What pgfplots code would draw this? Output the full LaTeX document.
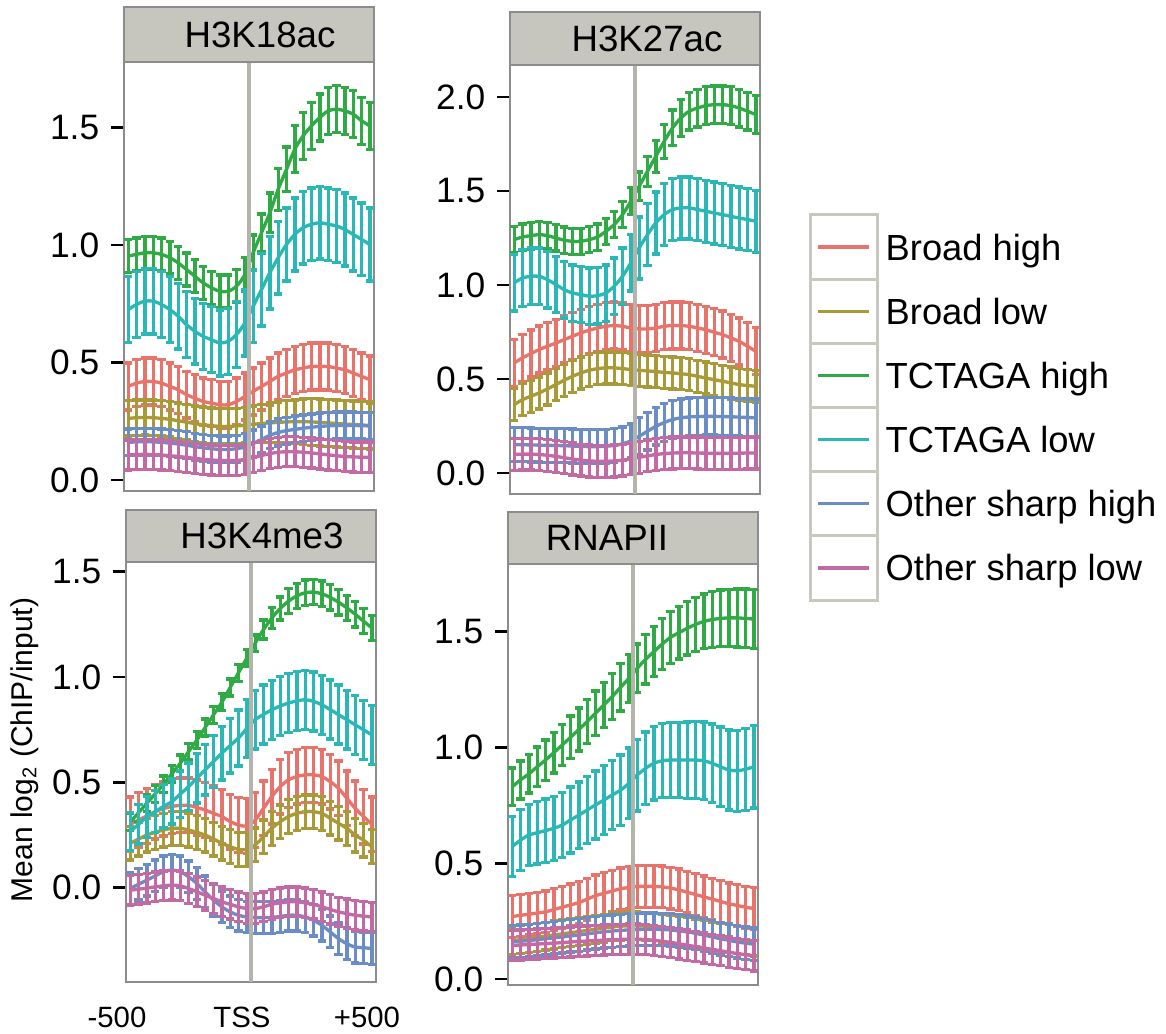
\documentclass[border=0pt]{standalone}
\usepackage{fontspec}
\setmainfont{Liberation Sans}
\usepackage{pgfplots}
\usepackage{pgfplotstable}
\pgfplotsset{compat=1.18}

\definecolor{cRed}{HTML}{E7736B}
\definecolor{cOlive}{HTML}{A99A38}
\definecolor{cGreen}{HTML}{2FAA44}
\definecolor{cCyan}{HTML}{2BB7B5}
\definecolor{cBlue}{HTML}{6A8DC6}
\definecolor{cPink}{HTML}{C36AA5}
\definecolor{frameGray}{HTML}{8C8C8C}
\definecolor{stripFill}{HTML}{C6C6BE}
\definecolor{tssGray}{HTML}{B4B4AC}
\definecolor{legGray}{HTML}{C8C8C0}

\newcommand\ticfont{\fontsize{10.6}{12}\selectfont}
\newcommand\stripfont{\fontsize{11}{13}\selectfont}
\newcommand\legfont{\fontsize{10.9}{13}\selectfont}
\newcommand\xfont{\fontsize{8.8}{10}\selectfont}
\newcommand\ylabfont{\fontsize{9}{11}\selectfont}

% columns: Broad high, Broad low, TCTAGA high, TCTAGA low, Other sharp high, Other sharp low (value, error)
\pgfplotstableread{
bh bhe bl ble th the tl tle oh ohe ol ole
0.398 0.10 0.262 0.075 0.953 0.070 0.725 0.140 0.160 0.057 0.106 0.064
0.412 0.10 0.265 0.075 0.960 0.070 0.747 0.140 0.162 0.057 0.108 0.064
0.419 0.10 0.266 0.075 0.967 0.070 0.761 0.140 0.163 0.057 0.109 0.064
0.419 0.10 0.265 0.075 0.967 0.070 0.761 0.140 0.162 0.057 0.108 0.064
0.412 0.10 0.262 0.075 0.960 0.070 0.747 0.140 0.160 0.057 0.106 0.064
0.398 0.10 0.258 0.075 0.946 0.070 0.725 0.140 0.157 0.057 0.103 0.064
0.384 0.10 0.252 0.075 0.924 0.070 0.697 0.140 0.153 0.057 0.100 0.064
0.363 0.10 0.246 0.075 0.896 0.070 0.661 0.140 0.148 0.057 0.096 0.064
0.348 0.10 0.240 0.075 0.867 0.070 0.633 0.140 0.142 0.057 0.092 0.064
0.334 0.10 0.235 0.075 0.839 0.070 0.611 0.140 0.137 0.057 0.088 0.064
0.327 0.10 0.231 0.075 0.818 0.070 0.597 0.140 0.133 0.057 0.085 0.064
0.320 0.10 0.228 0.075 0.803 0.070 0.583 0.140 0.130 0.057 0.083 0.064
0.320 0.10 0.228 0.075 0.803 0.070 0.590 0.140 0.130 0.057 0.082 0.064
0.334 0.10 0.230 0.075 0.825 0.070 0.619 0.140 0.133 0.057 0.083 0.064
0.355 0.10 0.233 0.075 0.874 0.072 0.668 0.140 0.140 0.057 0.087 0.064
0.377 0.10 0.237 0.078 0.967 0.075 0.739 0.155 0.155 0.057 0.095 0.064
0.398 0.10 0.240 0.081 1.052 0.080 0.810 0.155 0.172 0.057 0.104 0.064
0.419 0.10 0.243 0.084 1.137 0.085 0.882 0.155 0.190 0.057 0.112 0.064
0.441 0.10 0.245 0.087 1.237 0.090 0.946 0.155 0.202 0.057 0.118 0.064
0.455 0.10 0.247 0.090 1.322 0.095 1.002 0.155 0.210 0.057 0.120 0.064
0.469 0.10 0.248 0.093 1.408 0.100 1.045 0.155 0.215 0.057 0.120 0.064
0.476 0.10 0.248 0.096 1.465 0.100 1.074 0.155 0.220 0.057 0.118 0.064
0.483 0.10 0.247 0.100 1.507 0.100 1.088 0.155 0.224 0.057 0.115 0.064
0.483 0.10 0.245 0.100 1.543 0.100 1.095 0.155 0.228 0.057 0.111 0.064
0.483 0.10 0.243 0.100 1.571 0.100 1.088 0.155 0.230 0.057 0.107 0.064
0.476 0.10 0.240 0.100 1.578 0.100 1.081 0.155 0.232 0.057 0.103 0.064
0.469 0.10 0.238 0.100 1.571 0.100 1.066 0.155 0.232 0.057 0.100 0.064
0.455 0.10 0.236 0.100 1.557 0.100 1.045 0.155 0.232 0.057 0.098 0.064
0.441 0.10 0.234 0.100 1.529 0.100 1.024 0.155 0.231 0.057 0.097 0.064
0.427 0.10 0.232 0.100 1.507 0.100 1.002 0.155 0.230 0.057 0.097 0.064
}\tabA

\pgfplotstableread{
bh bhe bl ble th the tl tle oh ohe ol ole
0.585 0.125 0.363 0.085 1.241 0.070 1.011 0.150 0.151 0.090 0.098 0.085
0.612 0.125 0.390 0.085 1.255 0.070 1.037 0.150 0.150 0.090 0.100 0.085
0.635 0.125 0.408 0.085 1.262 0.070 1.046 0.150 0.149 0.090 0.100 0.085
0.656 0.125 0.426 0.085 1.268 0.070 1.046 0.150 0.148 0.090 0.098 0.085
0.674 0.125 0.447 0.085 1.262 0.070 1.028 0.150 0.147 0.090 0.094 0.085
0.691 0.125 0.470 0.085 1.250 0.070 1.002 0.150 0.146 0.090 0.088 0.085
0.709 0.125 0.493 0.085 1.238 0.070 0.975 0.150 0.145 0.090 0.081 0.085
0.727 0.125 0.514 0.085 1.232 0.070 0.957 0.150 0.143 0.090 0.074 0.085
0.745 0.125 0.532 0.085 1.232 0.070 0.949 0.150 0.141 0.090 0.068 0.085
0.759 0.125 0.546 0.085 1.241 0.070 0.940 0.150 0.140 0.090 0.064 0.085
0.771 0.125 0.555 0.085 1.255 0.070 0.943 0.150 0.140 0.090 0.062 0.085
0.780 0.125 0.559 0.085 1.285 0.070 0.957 0.150 0.142 0.090 0.062 0.085
0.784 0.125 0.559 0.085 1.321 0.070 0.993 0.150 0.146 0.090 0.064 0.085
0.780 0.125 0.555 0.085 1.374 0.070 1.046 0.150 0.155 0.090 0.068 0.085
0.771 0.125 0.550 0.085 1.445 0.072 1.117 0.150 0.170 0.090 0.075 0.085
0.766 0.125 0.546 0.085 1.525 0.075 1.197 0.165 0.195 0.100 0.083 0.085
0.766 0.125 0.543 0.085 1.605 0.080 1.268 0.165 0.222 0.100 0.091 0.085
0.771 0.125 0.539 0.085 1.684 0.085 1.330 0.165 0.248 0.100 0.098 0.085
0.780 0.125 0.535 0.085 1.764 0.090 1.374 0.165 0.268 0.100 0.103 0.085
0.784 0.125 0.532 0.085 1.835 0.095 1.401 0.165 0.284 0.100 0.106 0.085
0.784 0.125 0.528 0.085 1.888 0.100 1.410 0.165 0.293 0.100 0.107 0.085
0.780 0.125 0.523 0.085 1.924 0.100 1.410 0.165 0.298 0.100 0.107 0.085
0.771 0.125 0.514 0.085 1.941 0.100 1.401 0.165 0.300 0.100 0.106 0.085
0.762 0.125 0.505 0.085 1.954 0.100 1.392 0.165 0.301 0.100 0.105 0.085
0.748 0.125 0.496 0.085 1.959 0.100 1.383 0.165 0.301 0.100 0.104 0.085
0.736 0.125 0.488 0.085 1.959 0.100 1.374 0.165 0.300 0.100 0.104 0.085
0.718 0.125 0.479 0.085 1.954 0.100 1.365 0.165 0.299 0.100 0.104 0.085
0.700 0.125 0.470 0.085 1.941 0.100 1.356 0.165 0.297 0.100 0.105 0.085
0.674 0.125 0.465 0.085 1.924 0.100 1.348 0.165 0.295 0.100 0.106 0.085
0.647 0.125 0.461 0.085 1.906 0.100 1.339 0.165 0.293 0.100 0.106 0.085
}\tabB

\pgfplotstableread{
bh bhe bl ble th the tl tle oh ohe ol ole
0.300 0.13 0.210 0.08 0.310 0.040 0.265 0.090 -0.005 0.075 -0.013 0.07
0.320 0.13 0.230 0.08 0.355 0.040 0.300 0.093 0.015 0.075 -0.008 0.07
0.340 0.13 0.249 0.08 0.400 0.040 0.335 0.097 0.035 0.075 -0.003 0.07
0.360 0.13 0.262 0.08 0.445 0.040 0.360 0.100 0.055 0.075 0.003 0.07
0.375 0.13 0.273 0.08 0.490 0.040 0.385 0.103 0.075 0.075 0.008 0.07
0.385 0.13 0.281 0.08 0.540 0.040 0.408 0.107 0.083 0.075 0.011 0.07
0.390 0.13 0.281 0.08 0.590 0.040 0.443 0.110 0.075 0.075 0.008 0.07
0.390 0.13 0.273 0.08 0.645 0.040 0.479 0.113 0.051 0.075 -0.005 0.07
0.380 0.13 0.262 0.08 0.700 0.040 0.519 0.117 0.019 0.075 -0.020 0.07
0.368 0.13 0.249 0.08 0.760 0.040 0.559 0.120 -0.021 0.075 -0.037 0.07
0.352 0.13 0.230 0.08 0.820 0.040 0.598 0.123 -0.060 0.075 -0.052 0.07
0.337 0.13 0.210 0.08 0.880 0.040 0.638 0.127 -0.092 0.075 -0.068 0.07
0.313 0.13 0.194 0.08 0.950 0.040 0.674 0.130 -0.116 0.075 -0.080 0.07
0.297 0.13 0.181 0.08 1.020 0.040 0.710 0.133 -0.132 0.075 -0.092 0.07
0.292 0.13 0.181 0.08 1.090 0.040 0.755 0.137 -0.140 0.075 -0.100 0.07
0.320 0.13 0.202 0.08 1.160 0.040 0.797 0.140 -0.143 0.075 -0.100 0.07
0.376 0.13 0.241 0.08 1.225 0.045 0.822 0.140 -0.143 0.075 -0.092 0.07
0.432 0.13 0.281 0.08 1.280 0.050 0.844 0.140 -0.142 0.075 -0.079 0.07
0.479 0.13 0.312 0.08 1.325 0.055 0.862 0.140 -0.138 0.075 -0.073 0.07
0.511 0.13 0.337 0.08 1.360 0.060 0.876 0.140 -0.132 0.075 -0.068 0.07
0.527 0.13 0.352 0.08 1.385 0.060 0.886 0.140 -0.132 0.075 -0.068 0.07
0.535 0.13 0.360 0.08 1.400 0.060 0.892 0.140 -0.140 0.075 -0.073 0.07
0.535 0.13 0.360 0.08 1.403 0.060 0.884 0.140 -0.156 0.075 -0.080 0.07
0.527 0.13 0.352 0.08 1.395 0.060 0.868 0.140 -0.179 0.075 -0.092 0.07
0.503 0.13 0.329 0.08 1.378 0.060 0.845 0.140 -0.211 0.075 -0.104 0.07
0.471 0.13 0.305 0.08 1.355 0.060 0.821 0.140 -0.243 0.075 -0.116 0.07
0.424 0.13 0.281 0.08 1.328 0.060 0.797 0.140 -0.267 0.075 -0.124 0.07
0.376 0.13 0.249 0.08 1.298 0.060 0.773 0.140 -0.283 0.075 -0.132 0.07
0.337 0.13 0.225 0.08 1.265 0.060 0.749 0.140 -0.286 0.075 -0.136 0.07
0.300 0.13 0.194 0.08 1.233 0.060 0.725 0.140 -0.290 0.075 -0.140 0.07
}\tabC

\pgfplotstableread{
bh bhe bl ble th the tl tle oh ohe ol ole
0.270 0.09 0.165 0.06 0.831 0.080 0.572 0.130 0.160 0.07 0.145 0.065
0.275 0.09 0.170 0.06 0.860 0.082 0.600 0.132 0.163 0.07 0.147 0.065
0.280 0.09 0.175 0.06 0.886 0.083 0.622 0.133 0.166 0.07 0.149 0.065
0.285 0.09 0.180 0.06 0.917 0.085 0.632 0.135 0.170 0.07 0.151 0.065
0.290 0.09 0.185 0.06 0.946 0.087 0.641 0.137 0.174 0.07 0.153 0.065
0.300 0.09 0.190 0.06 0.978 0.088 0.651 0.138 0.178 0.07 0.155 0.065
0.310 0.09 0.195 0.06 1.011 0.090 0.665 0.140 0.182 0.07 0.157 0.065
0.320 0.09 0.200 0.06 1.044 0.092 0.687 0.142 0.186 0.07 0.160 0.065
0.330 0.09 0.205 0.06 1.078 0.093 0.708 0.143 0.190 0.07 0.162 0.065
0.345 0.09 0.210 0.06 1.112 0.095 0.730 0.145 0.195 0.07 0.164 0.065
0.360 0.09 0.215 0.06 1.148 0.097 0.752 0.147 0.200 0.07 0.166 0.065
0.370 0.09 0.220 0.06 1.184 0.098 0.773 0.148 0.204 0.07 0.168 0.065
0.380 0.09 0.225 0.06 1.220 0.100 0.795 0.150 0.207 0.07 0.170 0.065
0.390 0.09 0.228 0.06 1.260 0.102 0.816 0.152 0.210 0.07 0.171 0.065
0.395 0.09 0.230 0.06 1.299 0.103 0.845 0.153 0.212 0.07 0.172 0.065
0.400 0.09 0.230 0.06 1.342 0.105 0.881 0.155 0.214 0.07 0.172 0.065
0.400 0.09 0.228 0.06 1.381 0.107 0.910 0.157 0.215 0.07 0.170 0.065
0.400 0.09 0.225 0.06 1.414 0.108 0.932 0.158 0.215 0.07 0.167 0.065
0.398 0.09 0.220 0.06 1.447 0.110 0.943 0.160 0.214 0.07 0.163 0.065
0.393 0.09 0.215 0.06 1.476 0.112 0.946 0.162 0.212 0.07 0.158 0.065
0.385 0.09 0.210 0.06 1.496 0.113 0.946 0.163 0.208 0.07 0.152 0.065
0.375 0.09 0.205 0.06 1.515 0.115 0.946 0.165 0.204 0.07 0.146 0.065
0.365 0.09 0.198 0.06 1.532 0.117 0.946 0.167 0.198 0.07 0.140 0.065
0.355 0.09 0.192 0.06 1.545 0.118 0.943 0.168 0.190 0.07 0.134 0.065
0.345 0.09 0.186 0.06 1.553 0.120 0.932 0.170 0.182 0.07 0.128 0.065
0.335 0.09 0.180 0.06 1.558 0.122 0.917 0.172 0.174 0.07 0.122 0.065
0.325 0.09 0.175 0.06 1.560 0.123 0.903 0.173 0.167 0.07 0.116 0.065
0.318 0.09 0.170 0.06 1.560 0.125 0.900 0.175 0.160 0.07 0.110 0.065
0.310 0.09 0.165 0.06 1.558 0.127 0.906 0.177 0.155 0.07 0.105 0.065
0.305 0.09 0.160 0.06 1.555 0.128 0.917 0.178 0.150 0.07 0.100 0.065
}\tabD

\pgfplotsset{
  panel/.style={
    scale only axis, width=75pt, anchor=north west,
    xmin=-0.5, xmax=29.5, xtick=\empty,
    axis line style={draw=frameGray, line width=0.5pt},
    ytick pos=left, tick align=outside, major tick length=3.9pt,
    tick style={black, line width=0.8pt},
    yticklabel style={font=\ticfont, /pgf/number format/.cd, fixed, fixed zerofill, precision=1, assume math mode=true},
  },
  ser/.style={draw=#1, line width=1pt, smooth, mark=none,
    error bars/.cd, y dir=both, y explicit,
    error bar style={draw=#1, line width=1pt},
    error mark options={rotate=90, draw=#1, line width=1pt, mark size=1.25pt}},
}

\newcommand\allseries[1]{%
  \addplot[ser=cRed]   table[x expr=\coordindex, y=bh, y error=bhe] {#1};
  \addplot[ser=cOlive] table[x expr=\coordindex, y=bl, y error=ble] {#1};
  \addplot[ser=cGreen] table[x expr=\coordindex, y=th, y error=the] {#1};
  \addplot[ser=cCyan]  table[x expr=\coordindex, y=tl, y error=tle] {#1};
  \addplot[ser=cBlue]  table[x expr=\coordindex, y=oh, y error=ohe] {#1};
  \addplot[ser=cPink]  table[x expr=\coordindex, y=ol, y error=ole] {#1};
}

\begin{document}
\begin{tikzpicture}
\useasboundingbox (0,0) rectangle (349.8pt,-309.9pt);

% H3K18ac
\begin{axis}[panel, name=pA, at={(37.2pt,-18.6pt)}, height=128.7pt,
  ymin=-0.047, ymax=1.779, ytick={0,0.5,1,1.5}]
\allseries{\tabA}
\draw[tssGray, line width=1.1pt] (axis cs:14.5,-0.047) -- (axis cs:14.5,1.779);
\end{axis}
\draw[frameGray, fill=stripFill, line width=0.5pt] (pA.north west) rectangle ([yshift=16.5pt]pA.north east);
\node[font=\stripfont, inner sep=0pt] at ([xshift=3.3pt, yshift=8.25pt]pA.north) {H3K18ac};

% H3K27ac
\begin{axis}[panel, name=pB, at={(153pt,-19.5pt)}, height=128.7pt,
  ymin=-0.112, ymax=2.170, ytick={0,0.5,1,1.5,2}]
\allseries{\tabB}
\draw[tssGray, line width=1.1pt] (axis cs:14.5,-0.112) -- (axis cs:14.5,2.170);
\end{axis}
\draw[frameGray, fill=stripFill, line width=0.5pt] (pB.north west) rectangle ([yshift=15.9pt]pB.north east);
\node[font=\stripfont, inner sep=0pt] at ([xshift=3.6pt, yshift=7.95pt]pB.north) {H3K27ac};

% H3K4me3
\begin{axis}[panel, name=pC, at={(37.8pt,-168.6pt)}, height=126pt,
  ymin=-0.449, ymax=1.546, ytick={0,0.5,1,1.5},
  xtick={-0.5,14.5,29.5}, xticklabels={-500,TSS,+500},
  xtick style={draw=none},
  xticklabel style={font=\xfont, xshift=-2.7pt}]
\allseries{\tabC}
\draw[tssGray, line width=1.1pt] (axis cs:14.5,-0.449) -- (axis cs:14.5,1.546);
\end{axis}
\draw[frameGray, fill=stripFill, line width=0.5pt] (pC.north west) rectangle ([yshift=15.6pt]pC.north east);
\node[font=\stripfont, inner sep=0pt] at ([xshift=3.3pt, yshift=7.8pt]pC.north) {H3K4me3};

% RNAPII
\begin{axis}[panel, name=pD, at={(152.4pt,-169.2pt)}, height=126.3pt,
  ymin=-0.026, ymax=1.793, ytick={0,0.5,1,1.5}]
\allseries{\tabD}
\draw[tssGray, line width=1.1pt] (axis cs:14.5,-0.026) -- (axis cs:14.5,1.793);
\end{axis}
\draw[frameGray, fill=stripFill, line width=0.5pt] (pD.north west) rectangle ([yshift=15.6pt]pD.north east);
\node[font=\stripfont, inner sep=0pt] at ([xshift=-7.8pt, yshift=7.8pt]pD.north) {RNAPII};

% y label
\node[font=\ylabfont, rotate=90, inner sep=0pt] at (7.5pt,-225pt) {Mean log\textsubscript{2} (ChIP/input)};

% legend
\foreach \lab/\col [count=\i from 0] in {Broad high/cRed, Broad low/cOlive, TCTAGA high/cGreen, TCTAGA low/cCyan, Other sharp high/cBlue, Other sharp low/cPink} {
  \draw[legGray, line width=0.9pt] (243pt,{-64.5pt-\i*19.25pt}) rectangle (263.1pt,{-64.5pt-(\i+1)*19.25pt});
  \draw[\col, line width=1pt] (245.4pt,{-74.1pt-\i*19.25pt}) -- (260.7pt,{-74.1pt-\i*19.25pt});
  \node[font=\legfont, anchor=base west, inner sep=0pt] at (265.5pt,{-78pt-\i*19.25pt}) {\lab};
}
\end{tikzpicture}
\end{document}
